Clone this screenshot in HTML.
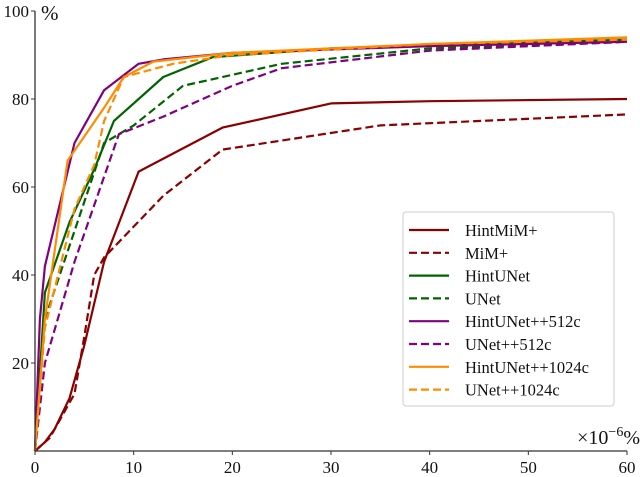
<!DOCTYPE html>
<html><head><meta charset="utf-8"><style>
html,body{margin:0;padding:0;background:#fff;}
svg{display:block;font-family:"Liberation Serif",serif;}
</style></head><body>
<svg id="chart" width="640" height="477"></svg>
<script>
const xTicks=[0,10,20,30,40,50,60];
const yTicks=[20,40,60,80,100];
const seriesNames=["HintMiM+","MiM+","HintUNet","UNet","HintUNet++512c","UNet++512c","HintUNet++1024c","UNet++1024c"];
const hintMimX=[0,1,2,3.5,5,7,10.5,19,30,40,60];
const hintMimY=[0,2,5,12,24,43,63.5,73.5,79,79.5,80];
const mimX=[0,1.5,4,5,6,7,13,19,35,60];
const mimY=[0,3,13,26,40,44,58,68.5,74,76.5];
const hintUnetX=[0,1,3.5,6,8,9,13,18,30,60];
const hintUnetY=[0,36,52,64,75,77,85,89.5,91.5,93.5];
const unetX=[0,1,4,7,10,15,25,40,60];
const unetY=[0,30,50,70,74,83,88,91.5,93];
const hint512X=[0,0.5,1,4,7,10.5,13,20,40,60];
const hint512Y=[0,30,42,70,82,88,89,90.5,92,93];
const unet512X=[0,1,4,8.5,13,20,25,40,60];
const unet512Y=[0,20,43,72,76,83,87,91,93];
const hint1024X=[0,1,3.3,7,9,12,20,40,60];
const hint1024Y=[0,30,66,78,85,88.5,90.5,92.5,94];
const unet1024X=[0,1,4,6,7,9,14,20,40,60];
const unet1024Y=[0,28,55,65,75,85,88,90,92.5,93.5];

const svg=document.getElementById('chart');
const NS='http://www.w3.org/2000/svg';
const x0=35,x1=627,y0=451,y1=11;
function sx(v){return x0+(v/60)*(x1-x0);}
function sy(v){return y0-(v/100)*(y0-y1);}
function mk(t,a){const e=document.createElementNS(NS,t);for(const k in a)e.setAttribute(k,a[k]);svg.appendChild(e);return e;}

const xs=[hintMimX,mimX,hintUnetX,unetX,hint512X,unet512X,hint1024X,unet1024X];
const ys=[hintMimY,mimY,hintUnetY,unetY,hint512Y,unet512Y,hint1024Y,unet1024Y];
const colors=["#8b0000","#8b0000","#006400","#006400","#800080","#800080","#ff8c00","#ff8c00"];
const dashed=[false,true,false,true,false,true,false,true];
const slugs=["hintmim","mim","hintunet","unet","hintunet-512c","unet-512c","hintunet-1024c","unet-1024c"];

for(let i=0;i<8;i++){
  const pts=xs[i].map((v,j)=>sx(v).toFixed(1)+','+sy(ys[i][j]).toFixed(1)).join(' ');
  const p=mk('polyline',{points:pts,fill:'none',stroke:colors[i],'stroke-width':2.2,'stroke-linejoin':'round'});
  if(dashed[i])p.setAttribute('stroke-dasharray','8,4');
  
  
}

const ax=mk('line',{x1:x0,y1:y0,x2:x1,y2:y0,stroke:'#333','stroke-width':1.3});


const ay=mk('line',{x1:x0,y1:y0,x2:x0,y2:y1,stroke:'#333','stroke-width':1.3});


xTicks.forEach(v=>{
  mk('line',{x1:sx(v),y1:y0,x2:sx(v),y2:y0+4,stroke:'#333','stroke-width':1});
  const t=mk('text',{x:sx(v),y:y0+22,'font-size':17,'text-anchor':'middle',fill:'#111'});
  t.textContent=v;
  
  
});
yTicks.forEach(v=>{
  mk('line',{x1:x0-4,y1:sy(v),x2:x0,y2:sy(v),stroke:'#333','stroke-width':1});
  const t=mk('text',{x:x0-6,y:sy(v)+6,'font-size':17,'text-anchor':'end',fill:'#111'});
  t.textContent=v;
  
  
});
const yl=mk('text',{x:41,y:20,'font-size':21,fill:'#111'});yl.textContent='%';


const xl=mk('text',{x:640,y:444,'font-size':20,'text-anchor':'end',fill:'#111'});
xl.innerHTML='×10<tspan dy="-8" font-size="14">−6</tspan><tspan dy="8">%</tspan>';



const lb=mk('rect',{x:403,y:212,width:211,height:194,rx:3,fill:'#fff',stroke:'#ccc','stroke-width':1,'fill-opacity':0.85});


for(let i=0;i<8;i++){
  const yy=230+i*22.8;
  const l=mk('line',{x1:409,y1:yy,x2:449,y2:yy,stroke:colors[i],'stroke-width':2.2});
  if(dashed[i])l.setAttribute('stroke-dasharray','8,4');
  
  
  const t=mk('text',{x:465,y:yy+6,'font-size':16.5,fill:'#111'});
  t.textContent=seriesNames[i];
  
  
}
</script>
</body></html>
